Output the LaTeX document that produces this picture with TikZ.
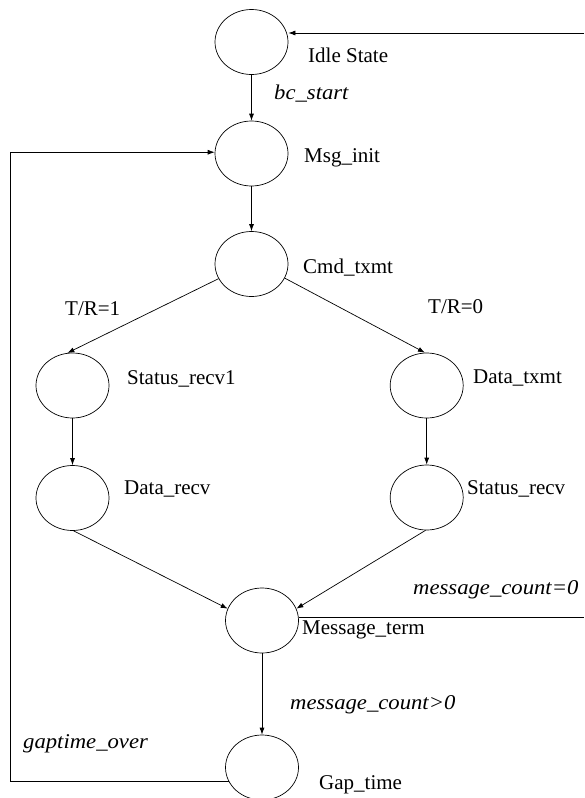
\documentclass[tikz,border=0pt]{standalone}
\usepackage{fontspec}
\setmainfont{Liberation Serif}
\newfontface\condit{Liberation Serif Italic}[FakeStretch=1.08]
\usetikzlibrary{arrows.meta,shapes.geometric}

\begin{document}
\begin{tikzpicture}[x=1pt,y=-1pt,
    state/.style={draw,ellipse,minimum width=73pt,minimum height=65pt,inner sep=0pt,line width=0.7pt},
    lbl/.style={anchor=base west,inner sep=0pt,font=\fontsize{21}{25}\selectfont},
    cond/.style={lbl,font=\condit\fontsize{21}{25}\selectfont},
    arr/.style={-{Latex[length=7pt,width=5pt]},line width=0.7pt}]
  \useasboundingbox (0,0) rectangle (584,798);
  % states
  \foreach \n/\x/\y in {idle/251.5/42,minit/251.5/153.5,cmd/251.5/264,
      stat1/72.5/385.5,dtx/426.7/385.5,drecv/72.5/498,srecv/426.7/497.5,
      mterm/262/620.5,gap/262/767.5}
    \node[state] (\n) at (\x,\y) {};
  % state names and conditions
  \node[lbl] (lidle) at (308,62) {Idle State};
  \node[cond] (lbc) at (274,99) {bc\_start};
  \node[lbl] (lminit) at (304,162) {Msg\_init};
  \node[lbl] (lcmd) at (303,273) {Cmd\_txmt};
  \node[lbl] (ltra) at (65,315) {T/R=1};
  \node[lbl] (ltrb) at (428,313) {T/R=0};
  \node[lbl] (lstat1) at (127,384) {Status\_recv1};
  \node[lbl] (ldtx) at (473,383) {Data\_txmt};
  \node[lbl] (ldrecv) at (124,494) {Data\_recv};
  \node[lbl] (lsrecv) at (467,494) {Status\_recv};
  \node[cond] (lmca) at (413,594) {message\_count=0};
  \node[lbl] (lmterm) at (302,634) {Message\_term};
  \node[cond] (lmcb) at (290,709) {message\_count>0};
  \node[cond] (lgap) at (23,748) {gaptime\_over};
  \node[lbl] (lgt) at (319,789) {Gap\_time};
  % loose ends
  \coordinate (rtop) at (584,33);
  \coordinate (rbot) at (584,618);
  \coordinate (lft) at (10,782);
  % transitions
  \draw[arr] (rtop) -- (rtop -| idle.east);
  \draw[arr] (idle) -- (minit);
  \draw[arr] (minit) -- (cmd);
  \draw[arr] (cmd.204) -- (stat1.99);
  \draw[arr] (cmd.337) -- (dtx.93);
  \draw[arr] (stat1) -- (drecv);
  \draw[arr] (dtx) -- (srecv);
  \draw[arr] (drecv.272) -- (mterm.161);
  \draw[arr] (srecv.268) -- (mterm.19);
  \draw[line width=0.7pt] (mterm.5) -- (mterm.5 -| rbot);
  \draw[arr] (mterm) -- (gap);
  \draw[arr] (gap.203) -- (gap.203 -| lft) |- (minit.178);
\end{tikzpicture}
\end{document}
